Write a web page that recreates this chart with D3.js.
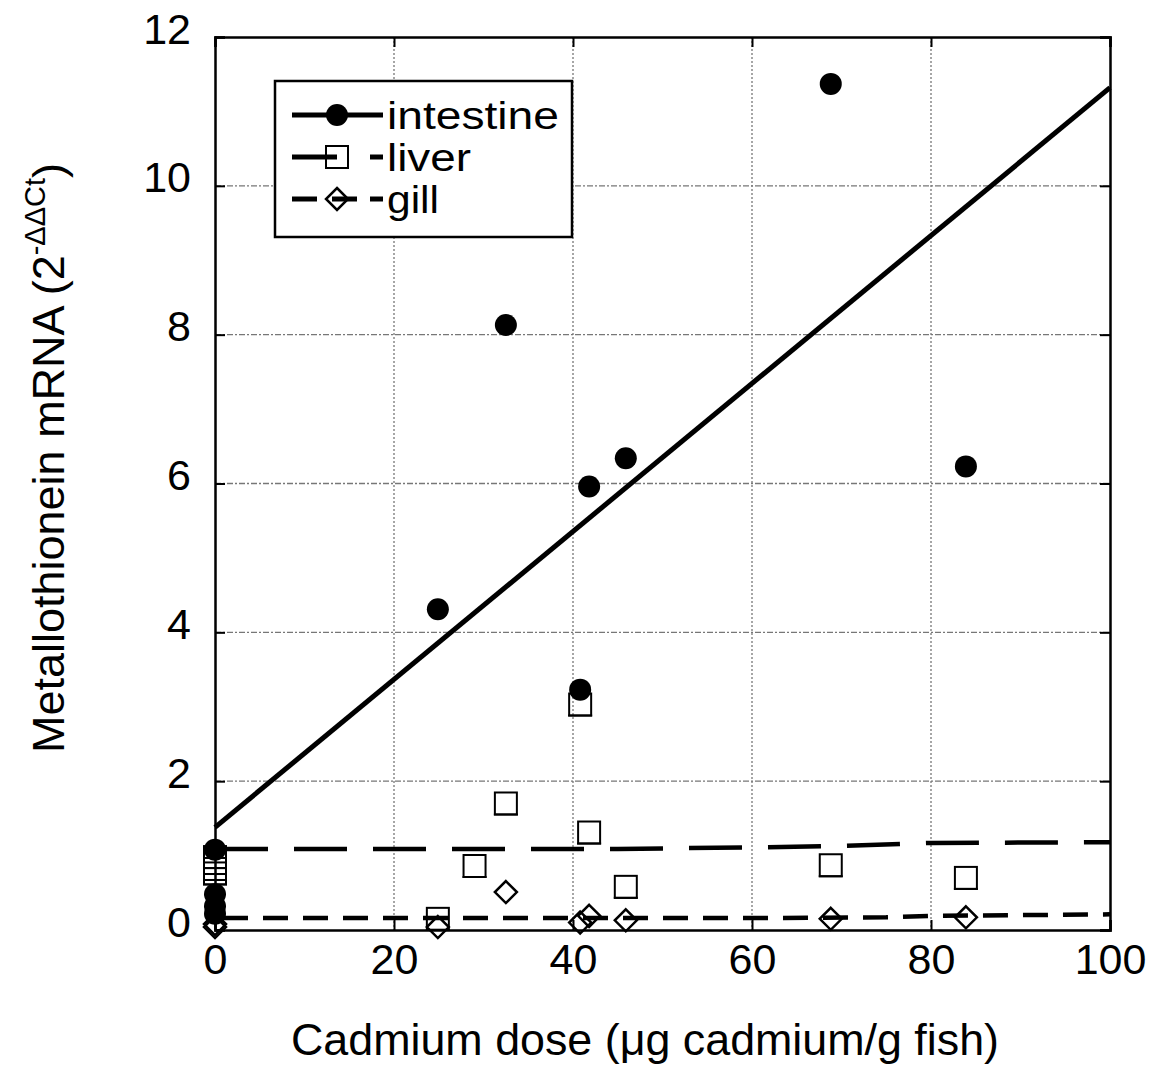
<!DOCTYPE html>
<html>
<head>
<meta charset="utf-8">
<script src="https://cdn.jsdelivr.net/npm/d3@7"></script>
<style>
  body { margin: 0; background: #fff; }
  svg text { font-family: "Liberation Sans", Arial, sans-serif; fill: #000; }
</style>
</head>
<body>
<div id="chart"></div>
<script>
'use strict';

// ---- data ----
var intestineDose = [0, 0, 0, 0, 24.9, 32.5, 40.8, 41.8, 45.9, 68.8, 83.9];
var intestineMt   = [1.08, 0.48, 0.32, 0.22, 4.31, 8.13, 3.23, 5.96, 6.34, 11.37, 6.23];

var liverDose = [0, 0, 0, 0, 24.9, 29, 32.5, 40.8, 41.8, 45.9, 68.8, 83.9];
var liverMt   = [0.98, 0.9, 0.82, 0.76, 0.15, 0.86, 1.7, 3.03, 1.31, 0.58, 0.87, 0.7];

var gillDose = [0, 0, 24.9, 32.5, 40.8, 41.8, 45.9, 68.8, 83.9];
var gillMt   = [0.08, 0.04, 0.04, 0.51, 0.1, 0.19, 0.13, 0.15, 0.17];

// fitted curves
var intestineFitDose = [0, 100];
var intestineFitMt   = [1.38, 11.32];
var liverFitDose = [0, 45, 60, 70, 80, 100];
var liverFitMt   = [1.09, 1.09, 1.11, 1.13, 1.17, 1.18];
var gillFitDose = [0, 60, 75, 80, 100];
var gillFitMt   = [0.16, 0.16, 0.17, 0.19, 0.21];

var xTicks = [0, 20, 40, 60, 80, 100];
var yTicks = [0, 2, 4, 6, 8, 10, 12];
var legendLabels = ['intestine', 'liver', 'gill'];

// ---- layout ----
var width = 1153;
var height = 1067;
var margin = {left: 215, right: 43, top: 37, bottom: 137};
var innerW = width - margin.left - margin.right;
var innerH = height - margin.top - margin.bottom;

var svg = d3.select('#chart').append('svg')
        .attr('width', width)
        .attr('height', height);

var g = svg.append('g')
        .attr('transform', 'translate(' + margin.left + ',' + margin.top + ')');

var x = d3.scaleLinear().domain([0, 100]).range([0, innerW]);
var y = d3.scaleLinear().domain([0, 12]).range([innerH, 0]);

// grid
g.append('g').selectAll('line.vg')
        .data(xTicks.slice(1, -1))
        .enter().append('line')
        .attr('x1', function(d) { return x(d); })
        .attr('x2', function(d) { return x(d); })
        .attr('y1', 0).attr('y2', innerH)
        .style('stroke', '#777').style('stroke-width', 1.3)
        .style('stroke-dasharray', '2,2');
g.append('g').selectAll('line.hg')
        .data(yTicks.slice(1, -1))
        .enter().append('line')
        .attr('y1', function(d) { return y(d); })
        .attr('y2', function(d) { return y(d); })
        .attr('x1', 0).attr('x2', innerW)
        .style('stroke', '#777').style('stroke-width', 1.3)
        .style('stroke-dasharray', '6,2,2,2');

// axes: labelled bottom / left, plain ticks on top / right
var bottomAxis = g.append('g')
        .attr('transform', 'translate(0,' + innerH + ')')
        .call(d3.axisBottom(x).tickValues(xTicks).tickSize(-10).tickPadding(22));
var leftAxis = g.append('g')
        .call(d3.axisLeft(y).tickValues(yTicks).tickSize(-10).tickPadding(22));
g.append('g')
        .call(d3.axisTop(x).tickValues(xTicks).tickSize(-10).tickFormat(''));
g.append('g')
        .attr('transform', 'translate(' + innerW + ',0)')
        .call(d3.axisRight(y).tickValues(yTicks).tickSize(-10).tickFormat(''));

g.selectAll('.domain').style('stroke', '#000').style('stroke-width', 2.5);
g.selectAll('.tick line').style('stroke', '#000').style('stroke-width', 2);
bottomAxis.selectAll('text')
        .style('font-size', '43px')
        .attr('dy', '0.72em')
        .attr('y', 13);
leftAxis.selectAll('text')
        .style('font-size', '43px')
        .attr('x', -24)
        .attr('dy', '0.14em');

// fit lines
var line = d3.line()
        .x(function(d) { return x(d[0]); })
        .y(function(d) { return y(d[1]); });

function pairs(xs, ys) {
    return xs.map(function(v, i) { return [v, ys[i]]; });
}

g.append('path')
        .datum(pairs(intestineFitDose, intestineFitMt))
        .attr('d', line)
        .style('fill', 'none').style('stroke', '#000').style('stroke-width', 5);
g.append('path')
        .datum(pairs(liverFitDose, liverFitMt))
        .attr('d', line)
        .style('fill', 'none').style('stroke', '#000').style('stroke-width', 4.5)
        .style('stroke-dasharray', '53,26');
g.append('path')
        .datum(pairs(gillFitDose, gillFitMt))
        .attr('d', line)
        .style('fill', 'none').style('stroke', '#000').style('stroke-width', 4.5)
        .style('stroke-dasharray', '25,15')
        .style('stroke-dashoffset', -8);

// markers
function drawSquare(sel, cx, cy) {
    sel.append('rect')
            .attr('x', cx - 11).attr('y', cy - 11)
            .attr('width', 22).attr('height', 22)
            .style('fill', 'none').style('stroke', '#000').style('stroke-width', 2);
    sel.append('line')
            .attr('x1', cx - 12).attr('x2', cx + 12)
            .attr('y1', cy + 11).attr('y2', cy + 11)
            .style('stroke', '#000').style('stroke-width', 2);
}

function drawDiamond(sel, cx, cy) {
    sel.append('path')
            .attr('d', 'M' + cx + ',' + (cy - 11) + 'L' + (cx + 11) + ',' + cy +
                    'L' + cx + ',' + (cy + 11) + 'L' + (cx - 11) + ',' + cy + 'Z')
            .style('fill', 'none').style('stroke', '#000').style('stroke-width', 2.5);
}

var gillG = g.append('g');
gillDose.forEach(function(d, i) { drawDiamond(gillG, x(d), y(gillMt[i])); });

var liverG = g.append('g');
liverDose.forEach(function(d, i) { drawSquare(liverG, x(d), y(liverMt[i])); });

g.append('g').selectAll('circle')
        .data(pairs(intestineDose, intestineMt))
        .enter().append('circle')
        .attr('cx', function(d) { return x(d[0]); })
        .attr('cy', function(d) { return y(d[1]); })
        .attr('r', 11)
        .style('fill', '#000');

// legend
var legend = g.append('g').attr('transform', 'translate(60,44)');
legend.append('rect')
        .attr('width', 297).attr('height', 156)
        .style('fill', '#fff').style('stroke', '#000').style('stroke-width', 2.5);

var rowY = [34, 76, 118];
var labelWidths = [172, 84, 52];
legendLabels.forEach(function(label, i) {
    var ly = rowY[i];
    if (i === 0) {
        legend.append('line')
                .attr('x1', 17).attr('x2', 108).attr('y1', ly).attr('y2', ly)
                .style('stroke', '#000').style('stroke-width', 5);
        legend.append('circle').attr('cx', 62).attr('cy', ly).attr('r', 11).style('fill', '#000');
    } else if (i === 1) {
        legend.append('line')
                .attr('x1', 17).attr('x2', 62).attr('y1', ly).attr('y2', ly)
                .style('stroke', '#000').style('stroke-width', 5);
        legend.append('line')
                .attr('x1', 95).attr('x2', 108).attr('y1', ly).attr('y2', ly)
                .style('stroke', '#000').style('stroke-width', 5);
        drawSquare(legend, 62, ly);
    } else {
        legend.append('line')
                .attr('x1', 17).attr('x2', 42).attr('y1', ly).attr('y2', ly)
                .style('stroke', '#000').style('stroke-width', 5);
        legend.append('line')
                .attr('x1', 57).attr('x2', 82).attr('y1', ly).attr('y2', ly)
                .style('stroke', '#000').style('stroke-width', 5);
        legend.append('line')
                .attr('x1', 95).attr('x2', 108).attr('y1', ly).attr('y2', ly)
                .style('stroke', '#000').style('stroke-width', 5);
        drawDiamond(legend, 62, ly);
    }
    legend.append('text')
            .attr('x', 112)
            .attr('y', ly + 14)
            .attr('textLength', labelWidths[i])
            .attr('lengthAdjust', 'spacingAndGlyphs')
            .style('font-size', '38px')
            .text(label);
});

// axis titles
svg.append('text')
        .attr('x', 645)
        .attr('y', 1055)
        .attr('text-anchor', 'middle')
        .attr('textLength', 708)
        .attr('lengthAdjust', 'spacingAndGlyphs')
        .style('font-size', '44px')
        .text('Cadmium dose (\u03bcg cadmium/g fish)');

var yTitle = svg.append('text')
        .attr('transform', 'translate(64,458) rotate(-90)')
        .attr('text-anchor', 'middle')
        .style('font-size', '45px');
yTitle.append('tspan').text('Metallothionein mRNA (2');
yTitle.append('tspan').attr('dy', -19).style('font-size', '29px').text('-\u0394\u0394Ct');
yTitle.append('tspan').attr('dy', 19).text(')');
</script>
</body>
</html>
